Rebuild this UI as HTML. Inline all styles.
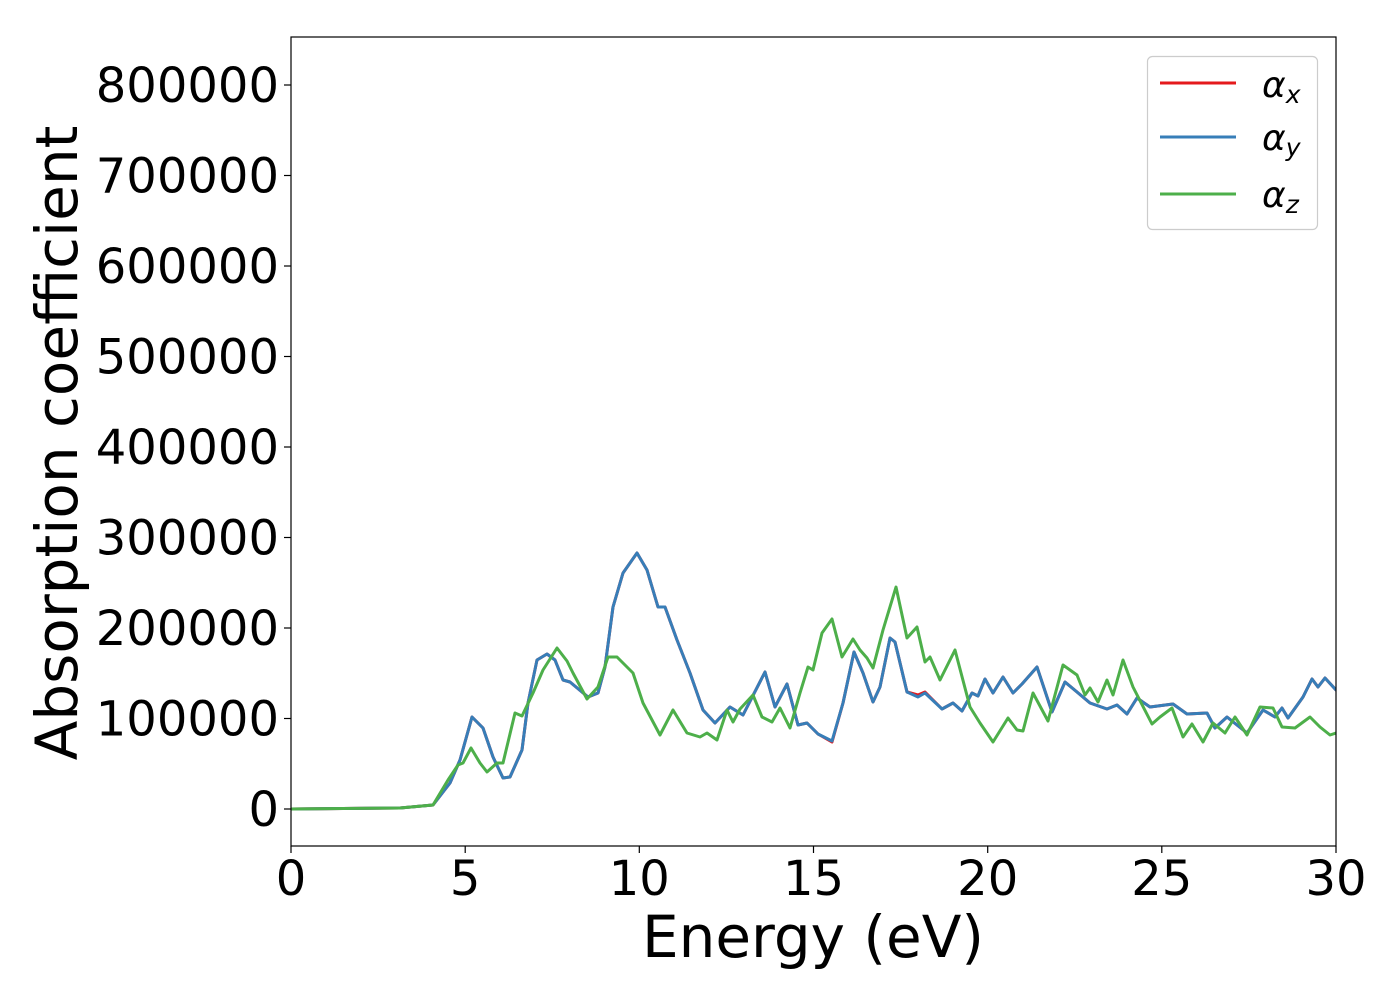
<!DOCTYPE html>
<html><head><meta charset="utf-8"><style>body{margin:0;background:#fff}svg{display:block}text{font-family:"DejaVu Sans","Liberation Sans",sans-serif;fill:#000}</style></head><body>
<svg width="1400" height="1000" viewBox="0 0 1400 1000" xmlns="http://www.w3.org/2000/svg">
<rect width="1400" height="1000" fill="#fff"/>
<defs><clipPath id="c"><rect x="291" y="37" width="1045" height="809"/></clipPath></defs>
<g clip-path="url(#c)" fill="none" stroke-width="3" stroke-linejoin="round" stroke-linecap="round">
<polyline stroke="#e41a1c" points="291,809 400,808 433,805 450,783 460,760 472,717 483,728 493,757 503,778 510,777 522,750 528,703 537,660 547,654 555,660 563,680 570,682 588,697 598,693 605,667 613,607 623,573 637,553 647,570 658,607 665,607 677,640 690,673 703,710 715,723 730,707 743,715 765,672 775,707 787,684 798,725 807,723 818,734 832,742 843,703 854,652 863,673 873,702 880,687 890,638 895,642 907,692 918,695 925,692 942,709 953,703 962,711 972,693 978,696 985,679 993,693 1003,677 1013,693 1022,684 1037,667 1052,712 1065,682 1077,692 1090,703 1107,709 1117,705 1127,714 1137,698 1150,707 1173,704 1187,714 1207,713 1215,728 1227,717 1247,733 1263,710 1275,717 1282,708 1288,718 1303,697 1312,679 1318,687 1325,678 1336,690"/>
<polyline stroke="#377eb8" points="291,809 400,808 433,805 450,783 460,760 472,717 483,728 493,757 503,778 510,777 522,750 528,703 537,660 547,654 555,660 563,680 570,682 588,697 598,693 605,667 613,607 623,573 637,553 647,570 658,607 665,607 677,640 690,673 703,710 715,723 730,707 743,715 765,672 775,707 787,684 798,725 807,723 818,734 832,741 843,703 854,652 863,673 873,702 880,687 890,638 895,642 907,692 918,697 925,693 942,709 953,703 962,711 972,693 978,696 985,679 993,693 1003,677 1013,693 1022,684 1037,667 1052,712 1065,682 1077,692 1090,703 1107,709 1117,705 1127,714 1137,698 1150,707 1173,704 1187,714 1207,713 1215,728 1227,717 1247,733 1263,710 1275,717 1282,708 1288,718 1303,697 1312,679 1318,687 1325,678 1336,690"/>
<polyline stroke="#4daf4a" points="291,809 400,808 433,805 448,780 458,765 463,763 471,748 480,763 487,772 497,763 503,763 515,713 522,716 533,693 543,670 557,648 567,661 573,673 587,699 598,687 608,657 617,657 633,673 643,703 660,735 673,710 687,733 700,737 707,733 717,740 727,710 733,722 740,709 753,695 762,717 772,722 780,708 790,728 800,693 808,667 813,670 822,633 832,619 842,657 853,639 860,650 867,658 873,668 883,630 896,587 907,638 917,627 925,662 930,657 940,680 955,650 970,707 980,723 993,742 1008,718 1017,730 1023,731 1033,693 1048,721 1063,665 1077,675 1085,695 1090,688 1098,702 1107,680 1113,695 1123,660 1133,687 1152,724 1160,717 1172,708 1183,737 1192,724 1203,742 1213,723 1225,733 1235,717 1247,735 1260,707 1273,708 1282,727 1295,728 1310,717 1320,727 1330,735 1336,733"/>
</g>
<rect x="291" y="37" width="1045" height="809" fill="none" stroke="#000" stroke-width="1.2"/>
<g stroke="#000" stroke-width="1.2">
<line x1="284" y1="809" x2="291" y2="809"/><line x1="284" y1="718.5" x2="291" y2="718.5"/><line x1="284" y1="628" x2="291" y2="628"/><line x1="284" y1="537.5" x2="291" y2="537.5"/><line x1="284" y1="447" x2="291" y2="447"/><line x1="284" y1="356.5" x2="291" y2="356.5"/><line x1="284" y1="266" x2="291" y2="266"/><line x1="284" y1="175.5" x2="291" y2="175.5"/><line x1="284" y1="85" x2="291" y2="85"/>
<line x1="291" y1="846" x2="291" y2="853"/><line x1="465.2" y1="846" x2="465.2" y2="853"/><line x1="639.3" y1="846" x2="639.3" y2="853"/><line x1="813.5" y1="846" x2="813.5" y2="853"/><line x1="987.7" y1="846" x2="987.7" y2="853"/><line x1="1161.8" y1="846" x2="1161.8" y2="853"/><line x1="1336" y1="846" x2="1336" y2="853"/>
</g>
<g font-size="48" text-anchor="end">
<text x="279" y="826">0</text><text x="279" y="735.5">100000</text><text x="279" y="645">200000</text><text x="279" y="554.5">300000</text><text x="279" y="464">400000</text><text x="279" y="373.5">500000</text><text x="279" y="283">600000</text><text x="279" y="192.5">700000</text><text x="279" y="102">800000</text>
</g>
<g font-size="48" text-anchor="middle">
<text x="291" y="895">0</text><text x="465.2" y="895">5</text><text x="639.3" y="895">10</text><text x="813.5" y="895">15</text><text x="987.7" y="895">20</text><text x="1161.8" y="895">25</text><text x="1336" y="895">30</text>
</g>
<text x="813" y="957" font-size="58" text-anchor="middle">Energy (eV)</text>
<text transform="translate(77,443) rotate(-90)" font-size="58" text-anchor="middle">Absorption coefficient</text>
<rect x="1147.5" y="56.5" width="170" height="173" rx="5" fill="#fff" fill-opacity="0.8" stroke="#ccc" stroke-width="1.2"/>
<line x1="1160" y1="83" x2="1236" y2="83" stroke="#e41a1c" stroke-width="3"/>
<line x1="1160" y1="137" x2="1236" y2="137" stroke="#377eb8" stroke-width="3"/>
<line x1="1160" y1="194" x2="1236" y2="194" stroke="#4daf4a" stroke-width="3"/>
<g font-size="36" font-style="italic">
<text x="1262" y="97">α<tspan font-size="25" dy="6">x</tspan></text>
<text x="1262" y="150">α<tspan font-size="25" dy="6">y</tspan></text>
<text x="1262" y="207">α<tspan font-size="25" dy="6">z</tspan></text>
</g>
</svg>
</body></html>
